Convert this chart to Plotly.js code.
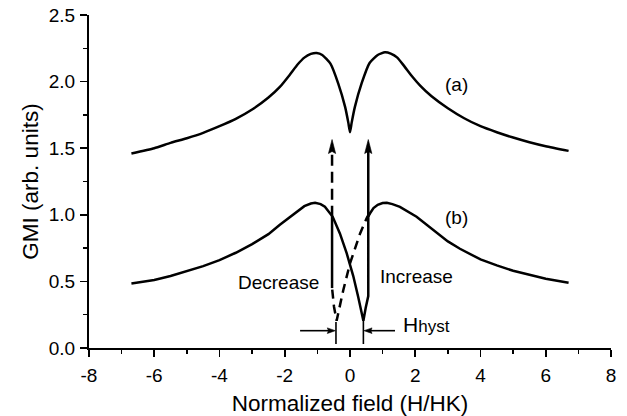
<!DOCTYPE html>
<html><head><meta charset="utf-8">
<script src="https://cdn.plot.ly/plotly-3.0.1.min.js"></script>
<style>html,body{margin:0;padding:0;background:#fff}</style>
</head><body><div id="chart" style="width:627px;height:416px"></div>
<script>
// ---- data ----
const curveA_x = [-6.7,-6.0,-5.5,-5.0,-4.5,-4.0,-3.5,-3.0,-2.5,-2.15,-1.85,-1.6,-1.4,-1.2,-1.02,-0.85,-0.6,-0.36,-0.15,-0.05,0,
                  0.05,0.15,0.36,0.6,0.85,1.07,1.25,1.45,1.65,1.9,2.15,2.5,3.0,3.5,4.0,4.5,5.0,5.5,6.0,6.7];
const curveA_y = [1.46,1.5,1.54,1.575,1.615,1.665,1.72,1.79,1.88,1.96,2.05,2.13,2.18,2.208,2.215,2.2,2.135,1.985,1.81,1.69,1.62,
                  1.69,1.81,1.99,2.14,2.2,2.22,2.21,2.18,2.12,2.04,1.97,1.89,1.8,1.725,1.665,1.62,1.58,1.545,1.515,1.48];

const curveB_x = [-6.7,-6.0,-5.5,-5.0,-4.5,-4.0,-3.5,-3.0,-2.5,-2.15,-1.75,-1.4,-1.2,-1.07,-0.9,-0.77,-0.53,-0.31,-0.1,0.1,0.25,0.41,0.48,0.56,0.56,
                  0.61,0.72,0.85,1.0,1.13,1.3,1.53,2.04,2.55,3.0,3.37,4.0,4.5,5.0,5.5,6.0,6.7];
const curveB_y = [0.485,0.51,0.54,0.575,0.615,0.66,0.715,0.78,0.855,0.925,1.0,1.065,1.085,1.09,1.08,1.06,0.985,0.86,0.71,0.54,0.385,0.205,0.3,0.39,0.985,
                  1.01,1.05,1.075,1.088,1.09,1.08,1.06,0.985,0.885,0.8,0.745,0.665,0.62,0.58,0.55,0.52,0.49];

// decreasing-field branch (dashed)
const decrease_x = [0.6,0.53,0.31,0.1,0.0,-0.205,-0.41,-0.49,-0.55];
const decrease_y = [1.01,0.985,0.86,0.71,0.635,0.435,0.205,0.31,0.45];
const decreaseJump_x = [-0.55,-0.55];
const decreaseJump_y = [0.45,0.985];

// vertical arrows: [decrease, increase]
const arrowX     = [-0.55, 0.56];
const arrowStart = [0.985, 0.985];
const arrowTip   = [1.565, 1.565];

// H_hyst markers
const hystX      = [-0.43, 0.41];
const hystBottom = [0.03, 0.03];
const hystTop    = [0.195, 0.205];
const hystArrowFrom = [-1.53, 1.38];
const hystArrowTo   = [-0.45, 0.43];
const hystArrowY    = 0.13;

const xTicks = [-8,-6,-4,-2,0,2,4,6,8];
const xTickText = ['-8','-6','-4','-2','0','2','4','6','8'];
const yTicks = [0.0,0.5,1.0,1.5,2.0,2.5];
const yTickText = ['0.0','0.5','1.0','1.5','2.0','2.5'];

// ---- layout geometry ----
const W=627, H=416, M={l:89,r:16,t:15,b:68};
const XR=[-8,8], YR=[0,2.5];
const pxX=(W-M.l-M.r)/(XR[1]-XR[0]);
const pxY=(H-M.t-M.b)/(YR[1]-YR[0]);

function head(tx,ty,dx,dy,len,hw){
  const bx=tx-dx*len/pxX, by=ty-dy*len/pxY;
  const nx=tx-dx*len*0.85/pxX, ny=ty-dy*len*0.85/pxY;
  const qx=-dy, qy=dx;
  return {x:[tx,bx+qx*hw/pxX,nx,bx-qx*hw/pxX,tx], y:[ty,by+qy*hw/pxY,ny,by-qy*hw/pxY,ty]};
}
const LW=2.5, K='#000';
const traces=[];
function line(x,y,extra){traces.push(Object.assign({type:'scatter',mode:'lines',x:x,y:y,hoverinfo:'skip',showlegend:false,
  line:{color:K,width:LW}},extra||{}));}
function fillHead(h){traces.push({type:'scatter',mode:'lines',x:h.x,y:h.y,fill:'toself',fillcolor:K,
  line:{color:K,width:0.6},hoverinfo:'skip',showlegend:false});}

line(curveA_x,curveA_y,{line:{color:K,width:LW,shape:'spline',smoothing:0.5}});
line(curveB_x,curveB_y,{line:{color:K,width:LW}});
line(decrease_x,decrease_y,{line:{color:K,width:LW,dash:'9px,6px'}});
line(decreaseJump_x,decreaseJump_y);
// arrows
const headLen=14, headHW=3.6;
for(let i=0;i<arrowX.length;i++){
  const shaftEnd=arrowTip[i]-headLen*0.8/pxY;
  line([arrowX[i],arrowX[i]],[arrowStart[i],shaftEnd],
       i===0?{line:{color:K,width:LW,dash:'11px,6px'}}:{});
  fillHead(head(arrowX[i],arrowTip[i],0,1,headLen,headHW));
}
for(let i=0;i<hystX.length;i++){
  line([hystX[i],hystX[i]],[hystBottom[i],hystTop[i]],{line:{color:K,width:1.6}});
  const dir=Math.sign(hystArrowTo[i]-hystArrowFrom[i]);
  line([hystArrowFrom[i],hystArrowTo[i]-dir*6/pxX],[hystArrowY,hystArrowY],{line:{color:K,width:1.6}});
  fillHead(head(hystArrowTo[i],hystArrowY,dir,0,8,2.8));
}

const FONT='"Liberation Sans", Arial, Helvetica, sans-serif';
const ann=(x,y,t,s,xa)=>({x:x,y:y,xref:'x',yref:'y',text:t,showarrow:false,xanchor:xa||'center',yanchor:'middle',
  font:{family:FONT,size:s,color:K}});

const layout={
  width:W,height:H,margin:M,paper_bgcolor:'#fff',plot_bgcolor:'#fff',showlegend:false,
  font:{family:FONT,color:K},
  xaxis:{range:XR,tickvals:xTicks,ticktext:xTickText,ticks:'outside',ticklen:7,tickwidth:1.6,tickcolor:K,
    showline:true,linewidth:2,linecolor:K,showgrid:false,zeroline:false,ticklabelstandoff:2,
    tickfont:{family:FONT,size:19,color:K},
    minor:{dtick:1,ticks:'outside',ticklen:4,tickwidth:1.4,tickcolor:K,showgrid:false},
    title:{text:'Normalized field (H/HK)',font:{family:FONT,size:22.5,color:K},standoff:12}},
  yaxis:{range:YR,tickvals:yTicks,ticktext:yTickText,ticks:'outside',ticklen:7,tickwidth:1.6,tickcolor:K,
    showline:true,linewidth:2,linecolor:K,showgrid:false,zeroline:false,ticklabelstandoff:1,
    tickfont:{family:FONT,size:19,color:K},
    minor:{dtick:0.25,ticks:'outside',ticklen:4,tickwidth:1.4,tickcolor:K,showgrid:false},
    title:{text:'GMI (arb. units)',font:{family:FONT,size:22.5,color:K},standoff:4}},
  annotations:[
    ann(3.27,1.975,'(a)',19),
    ann(3.26,0.978,'(b)',19),
    ann(-2.19,0.49,'Decrease',19),
    ann(2.04,0.536,'Increase',19),
    ann(1.56,0.18,'H<span style="font-size:17px">hyst</span>',21,'left')
  ]
};
Plotly.newPlot('chart',traces,layout,{staticPlot:true,displayModeBar:false});
</script></body></html>
